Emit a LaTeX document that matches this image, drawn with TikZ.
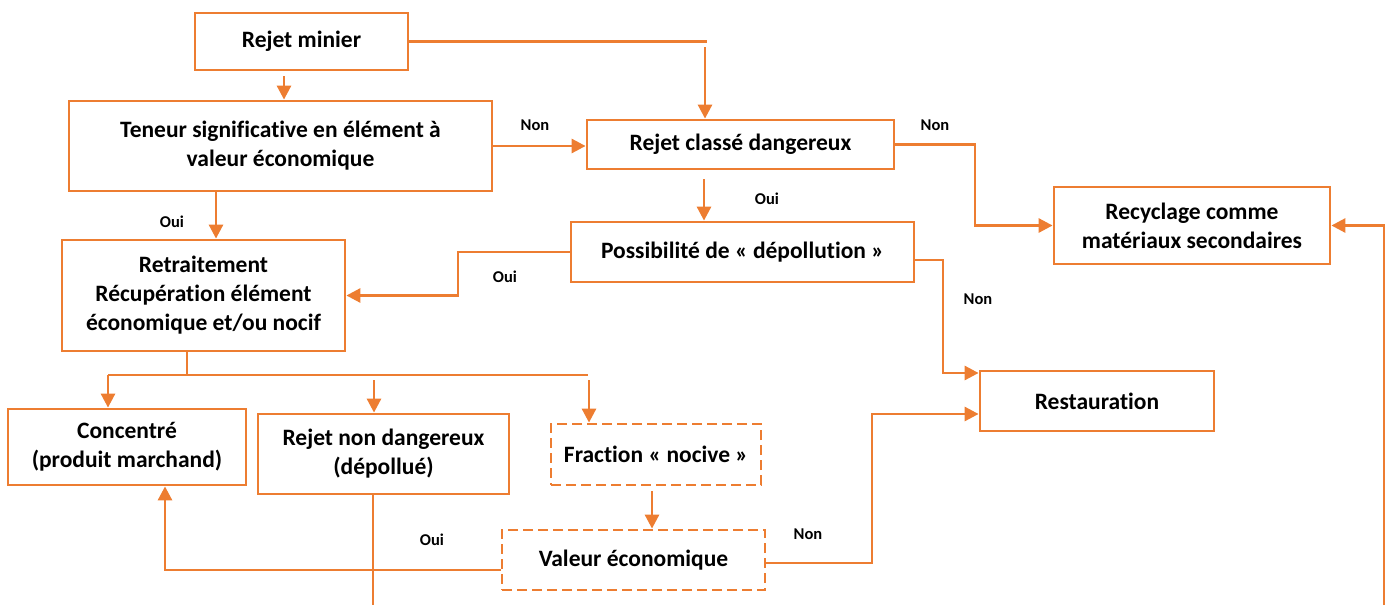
\documentclass[tikz,border=0pt]{standalone}
\usepackage{fontspec}
\setmainfont{Carlito}[Ligatures=NoCommon]
\usetikzlibrary{arrows.meta,calc}
\definecolor{org}{HTML}{ED7D31}
\begin{document}
\begin{tikzpicture}[x=1pt,y=-1pt,
  box/.style={draw=org,line width=2.8pt,rectangle,inner sep=0pt,align=center,font=\fontsize{23.5}{29}\selectfont\bfseries,text=black},
  dbox/.style={box,dash pattern=on 10pt off 5pt},
  arr/.style={draw=org,line width=2.8pt,-{Triangle[length=14pt,width=14pt]}},
  ln/.style={draw=org,line width=2.8pt},
  lab/.style={font=\fontsize{16.5}{18}\selectfont\bfseries,text=black,inner sep=0pt}]
\useasboundingbox (0,0) rectangle (1391,605);
\node[box,minimum width=213pt,minimum height=57pt] (rm) at (301.5,41.5) {Rejet minier};
\node[box,minimum width=423pt,minimum height=90pt] (ten) at (280.5,146) {Teneur significative en élément à\\valeur économique};
\node[box,minimum width=307pt,minimum height=49pt] (rcd) at (740.5,144.5) {Rejet classé dangereux};
\node[box,minimum width=276pt,minimum height=77pt] (rec) at (1192,225.5) {Recyclage comme\\matériaux secondaires};
\node[box,minimum width=343pt,minimum height=60pt] (pos) at (742.5,252) {Possibilité de « dépollution »};
\node[box,minimum width=283pt,minimum height=111pt] (ret) at (203.5,295.5) {Retraitement\\Récupération élément\\économique et/ou nocif};
\node[box,minimum width=234pt,minimum height=60pt] (res) at (1097,401) {Restauration};
\node[box,minimum width=238pt,minimum height=76pt] (con) at (127,447) {Concentré\\(produit marchand)};
\node[box,minimum width=251pt,minimum height=80pt] (rnd) at (383.5,454) {Rejet non dangereux\\(dépollué)};
\node[dbox,minimum width=210pt,minimum height=61pt] (fra) at (656,454.5) {Fraction « nocive »};
\node[dbox,minimum width=263pt,minimum height=60pt] (val) at (633.5,560) {Valeur économique};
% connectors
\draw[ln] (rm.east) -- (rm.east -| 707,0);
\draw[arr] (705,47) -- (rcd.north -| 705,0);
\draw[arr] (rm.south -| 284,0) ++(0,5) -- (ten.north -| 284,0);
\draw[arr] (ten.east) -- (ten.east -| rcd.west);
\draw[arr] (ten.south -| 216,0) -- (ret.north -| 216,0);
\draw[arr] (rcd.east) -- (975,144.5) |- (rec.west);
\draw[arr] (rcd.south -| 704,0) ++(0,9) -- (pos.north -| 704,0);
\draw[arr] (pos.west) -- (458,252) |- (ret.east);
\draw[arr] ($(pos.east)+(0,8)$) -- (943,260) |- (res.west |- 0,373);
\draw[ln] (ret.south -| 187,0) -- (187,375);
\draw[ln] (108,375) -- (588,375);
\draw[arr] (108,375) -- (con.north -| 108,0);
\draw[arr] (374,380) -- (rnd.north -| 374,0);
\draw[arr] (589,380) -- (fra.north -| 589,0);
\draw[arr] (fra.south -| 652,0) ++(0,5) -- (val.north -| 652,0);
\draw[arr] (val.west |- 0,570) -| (con.south -| 165,0);
\draw[arr] (val.east |- 0,563) -- (872,563) |- (res.west |- 0,414);
\draw[ln] (rnd.south -| 373,0) -- (373,605);
\draw[arr] (1384,605) |- (rec.east);
% labels
\node[lab] (l1) at (535,125) {Non};
\node[lab] (l2) at (935,125) {Non};
\node[lab] (l3) at (172,222) {Oui};
\node[lab] (l4) at (767,199) {Oui};
\node[lab] (l5) at (505,277) {Oui};
\node[lab] (l6) at (978,299) {Non};
\node[lab] (l7) at (432,540) {Oui};
\node[lab] (l8) at (808,534) {Non};
\end{tikzpicture}
\end{document}
